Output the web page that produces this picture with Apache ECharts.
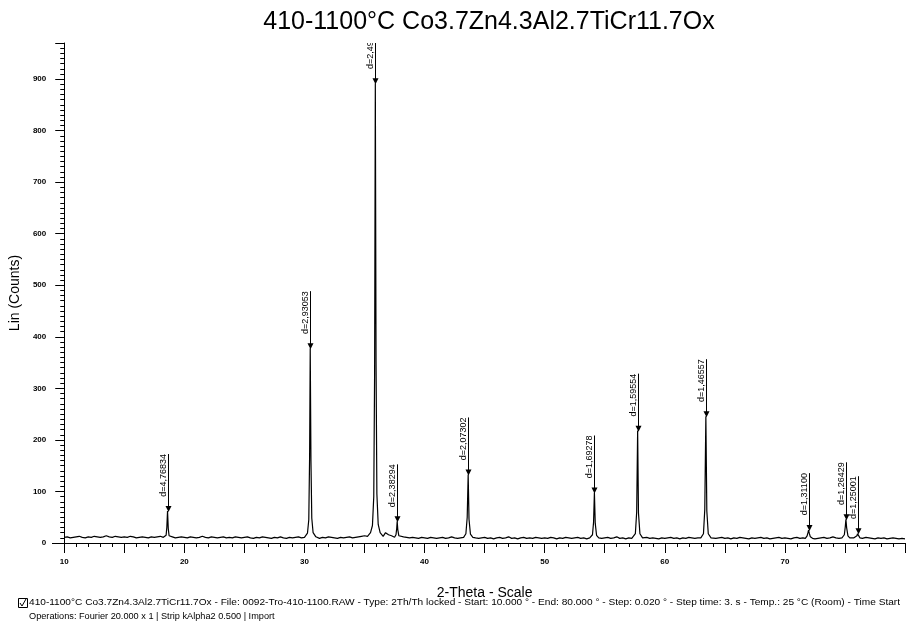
<!DOCTYPE html>
<html>
<head>
<meta charset="utf-8">
<script src="https://cdn.jsdelivr.net/npm/echarts@6/dist/echarts.min.js"></script>
<style>html,body{margin:0;padding:0;background:#fff}#c{width:908px;height:629px}</style>
</head>
<body>
<div id="c"></div>
<script>
// ---- Data ----
const thetaStart = 10, thetaStep = 0.25;
// background counts every 0.25 deg from 10 to 80
const baselineCounts = [
 11,12,10,11,12,13,11,10,12,11,13,12,11,12,14,12,11,13,12,11,
 12,11,13,12,10,11,12,11,10,12,11,12,13,11,10,11,12,10,11,12,
 11,10,12,11,10,11,13,11,10,12,11,10,11,12,10,11,10,12,11,10,
 11,12,10,9,11,10,12,11,10,9,11,10,12,10,9,11,10,11,12,10,
 11,10,12,11,10,9,11,10,12,11,10,9,11,10,11,12,10,11,12,13,
 14,16,18,24,30,40,30,20,16,14,13,12,11,12,11,10,11,10,9,11,
 10,9,11,10,9,10,11,9,10,12,10,9,10,11,9,10,11,10,9,10,
 11,9,10,8,10,11,9,10,12,9,10,8,10,11,9,10,9,11,10,9,
 10,9,11,10,8,10,9,11,10,9,10,11,9,10,8,10,11,9,10,9,
 10,11,9,10,12,9,10,8,10,9,11,10,9,10,11,9,10,9,8,10,
 9,10,11,9,10,8,10,9,11,10,9,10,11,9,10,8,10,9,10,11,
 9,10,8,10,9,11,10,9,8,10,9,10,11,9,10,8,9,10,11,9,
 10,9,8,10,11,9,10,12,9,10,8,9,10,11,9,10,12,10,9,10,
 11,10,9,10,8,10,9,11,10,9,8,10,9,10,8,9,10,9,8,9,8
];
// peak profiles [2theta, counts]
const peakProfiles = [
 [[18.35,12],[18.48,15],[18.54,30],[18.60,62],[18.66,28],[18.73,14],[18.85,11]],
 [[30.05,12],[30.25,19],[30.36,45],[30.43,170],[30.48,378],[30.54,160],[30.61,48],[30.72,20],[30.95,12]],
 [[35.25,13],[35.50,20],[35.66,34],[35.77,90],[35.84,330],[35.90,892],[35.96,350],[36.03,95],[36.14,36],[36.30,20],[36.55,13]],
 [[37.50,11],[37.62,16],[37.68,28],[37.72,42],[37.77,26],[37.86,14],[38.00,11]],
 [[43.25,11],[43.44,18],[43.55,50],[43.63,133],[43.70,46],[43.82,17],[44.02,11]],
 [[53.80,10],[53.98,16],[54.07,40],[54.14,98],[54.21,38],[54.32,15],[54.50,10]],
 [[57.35,10],[57.55,18],[57.66,60],[57.74,218],[57.81,58],[57.93,18],[58.15,10]],
 [[63.00,10],[63.22,18],[63.33,65],[63.42,246],[63.50,62],[63.62,18],[63.85,10]],
 [[71.70,9],[71.85,14],[71.92,20],[71.97,25],[72.03,19],[72.12,12],[72.30,9]],
 [[74.80,9],[74.95,16],[75.03,32],[75.08,46],[75.14,30],[75.25,14],[75.40,10]],
 [[75.90,10],[76.00,14],[76.05,18],[76.08,19],[76.13,15],[76.25,10],[76.45,9]]
];
const peakCenters = [18.60, 30.48, 35.90, 37.72, 43.63, 54.14, 57.74, 63.42, 71.97, 75.08, 76.08];
const peakHeights = [62, 378, 892, 42, 133, 98, 218, 246, 25, 46, 19];
const peakLabels = ['d=4,76834','d=2,93053','d=2,49960','d=2,38294','d=2,07302','d=1,69278','d=1,59554','d=1,46557','d=1,31100','d=1,26429','d=1,25001'];
const xTickLabels = [10, 20, 30, 40, 50, 60, 70];
const yTickLabels = [0, 100, 200, 300, 400, 500, 600, 700, 800, 900];

const titleText = '410-1100°C Co3.7Zn4.3Al2.7TiCr11.7Ox';
const footer1 = '410-1100°C Co3.7Zn4.3Al2.7TiCr11.7Ox - File: 0092-Tro-410-1100.RAW - Type: 2Th/Th locked - Start: 10.000 ° - End: 80.000 ° - Step: 0.020 ° - Step time: 3. s - Temp.: 25 °C (Room) - Time Start';
const footer2 = 'Operations: Fourier 20.000 x 1 | Strip kAlpha2 0.500 | Import';

// ---- build pattern ----
const pattern = [];
baselineCounts.forEach((c, i) => {
  const x = thetaStart + i * thetaStep;
  const inPeak = peakProfiles.some(p => x >= p[0][0] && x <= p[p.length - 1][0]);
  if (!inPeak) pattern.push([x, c]);
});
peakProfiles.forEach(p => p.forEach(pt => pattern.push(pt)));
pattern.sort((a, b) => a[0] - b[0]);

const annot = peakCenters.map((x, i) => [x, peakHeights[i], i]);
const FONT = '"Liberation Sans", Arial, sans-serif';

const chart = echarts.init(document.getElementById('c'), null, {renderer: 'canvas'});
chart.setOption({
  animation: false,
  backgroundColor: '#fff',
  grid: {left: 60, right: -6, top: 43, bottom: 86, containLabel: false},
  xAxis: {
    type: 'value', min: 10, max: 80, interval: 5,
    name: '2-Theta - Scale', nameLocation: 'middle', nameGap: 43,
    nameTextStyle: {fontFamily: FONT, fontSize: 14, color: '#000'},
    axisLine: {lineStyle: {color: '#000', width: 1}},
    axisTick: {length: 10, lineStyle: {color: '#000'}},
    minorTick: {show: true, splitNumber: 5, length: 4, lineStyle: {color: '#000'}},
    splitLine: {show: false},
    axisLabel: {fontFamily: FONT, fontSize: 8, fontWeight: 'bold', color: '#000', margin: 15,
      formatter: v => xTickLabels.indexOf(Math.round(v)) >= 0 && Math.abs(v - Math.round(v)) < 1e-6 ? String(Math.round(v)) : ''}
  },
  yAxis: {
    type: 'value', min: 0, max: 970, interval: 100,
    name: 'Lin (Counts)', nameLocation: 'middle', nameGap: 42,
    nameTextStyle: {fontFamily: FONT, fontSize: 14, color: '#000'},
    axisLine: {show: true, lineStyle: {color: '#000', width: 1}},
    axisTick: {show: true, length: 9, lineStyle: {color: '#000'}},
    minorTick: {show: true, splitNumber: 10, length: 4, lineStyle: {color: '#000'}},
    splitLine: {show: false},
    axisLabel: {fontFamily: FONT, fontSize: 8, fontWeight: 'bold', color: '#000', margin: 18,
      formatter: v => yTickLabels.indexOf(v) >= 0 ? String(v) : ''}
  },
  graphic: [
    {type: 'text', x: 489, y: 22, style: {text: titleText, font: '25px ' + FONT, fill: '#000', align: 'center', verticalAlign: 'middle'}},
    {type: 'line', shape: {x1: 52, y1: 543.5, x2: 60, y2: 543.5}, style: {stroke: '#000', lineWidth: 1}},
    {type: 'rect', shape: {x: 18.5, y: 598.5, width: 9, height: 9}, style: {fill: 'none', stroke: '#000', lineWidth: 1}},
    {type: 'polyline', shape: {points: [[20, 603], [22, 606], [26, 599]]}, style: {fill: 'none', stroke: '#000', lineWidth: 1}},
    {type: 'text', x: 29, y: 603, scaleX: 1.19, style: {text: footer1, font: '8.5px ' + FONT, fill: '#000', align: 'left', verticalAlign: 'middle'}},
    {type: 'text', x: 29, y: 617, scaleX: 1.08, style: {text: footer2, font: '8.5px ' + FONT, fill: '#000', align: 'left', verticalAlign: 'middle'}}
  ],
  series: [
    {type: 'line', data: pattern, showSymbol: false, symbol: 'none', clip: true,
     lineStyle: {color: '#000', width: 1.2}, z: 3},
    {type: 'custom', data: annot, clip: true, z: 4,
     encode: {x: 0, y: 1},
     renderItem: function (params, api) {
       const pt = api.coord([api.value(0), api.value(1)]);
       const lx = Math.round(pt[0]) + 0.5;
       const py = pt[1];
       const top = py - 57;
       return {type: 'group', children: [
         {type: 'line', shape: {x1: lx, y1: py, x2: lx, y2: top}, style: {stroke: '#000', lineWidth: 1}},
         {type: 'polygon', shape: {points: [[lx - 3, py - 5], [lx + 3, py - 5], [lx, py + 1]]}, style: {fill: '#000'}},
         {type: 'text', x: lx - 5, y: top, rotation: Math.PI / 2,
          style: {text: peakLabels[api.value(2)], font: '9px ' + FONT, fill: '#000', align: 'right', verticalAlign: 'middle'}}
       ]};
     }}
  ]
});
</script>
</body>
</html>
